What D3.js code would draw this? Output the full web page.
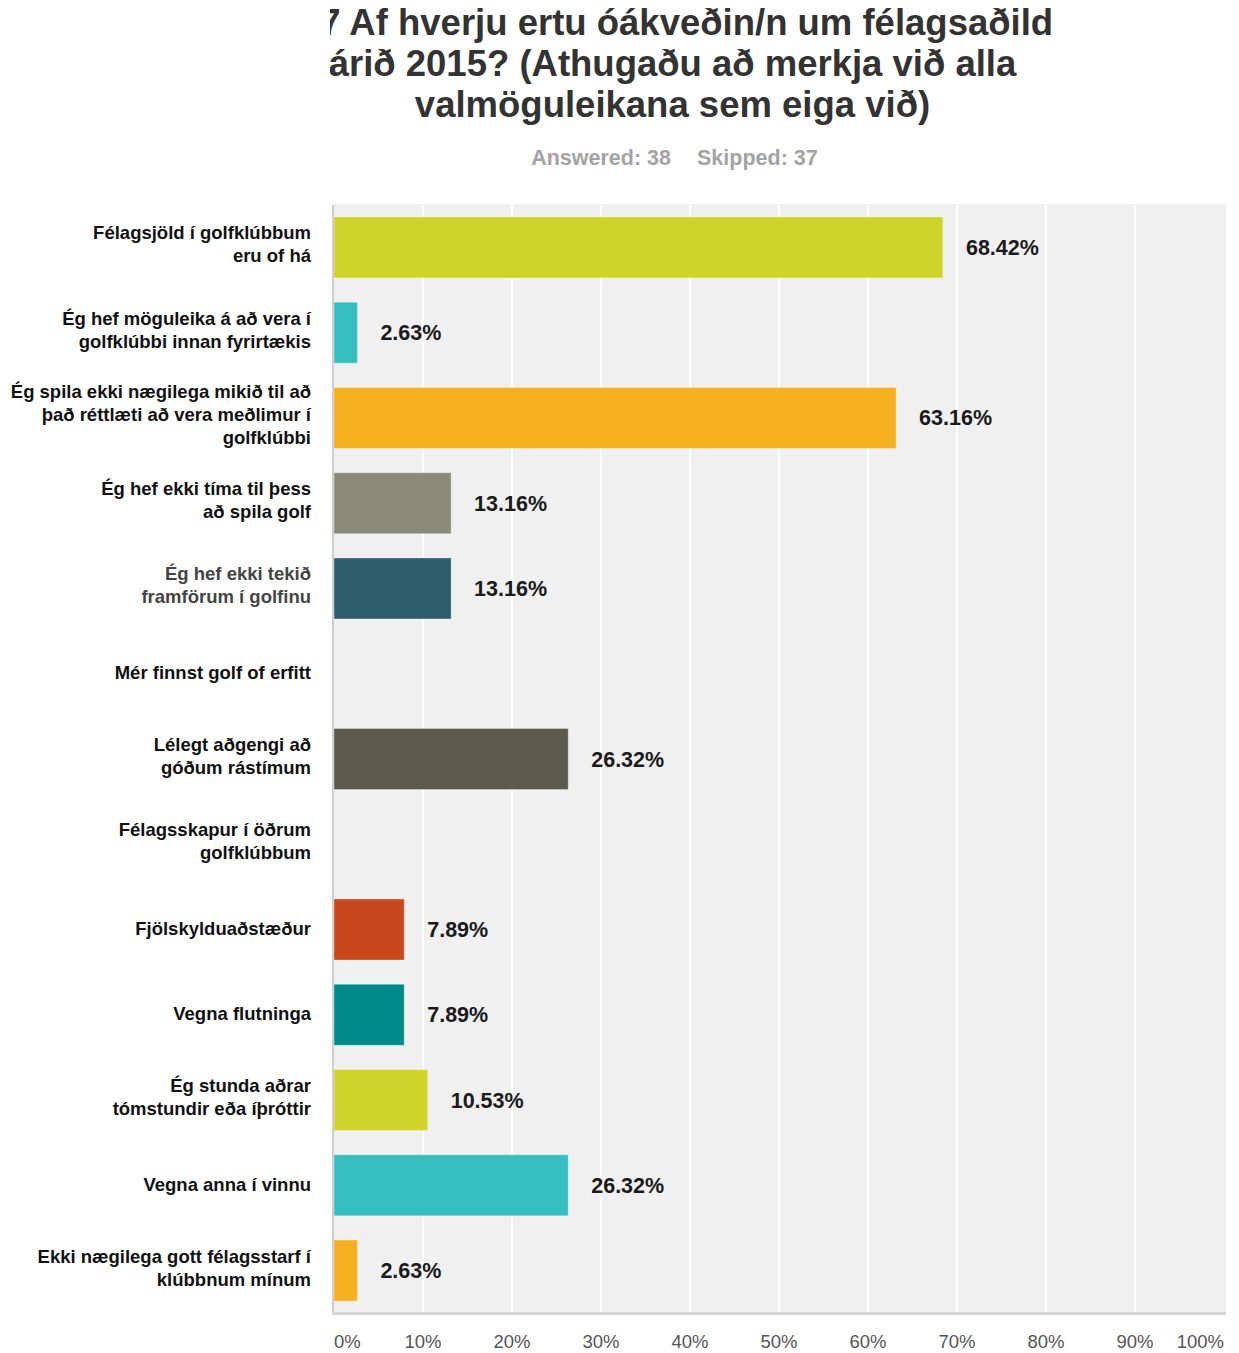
<!DOCTYPE html>
<html>
<head>
<meta charset="utf-8">
<script src="https://cdn.jsdelivr.net/npm/d3@7"></script>
<style>
  html, body { margin: 0; padding: 0; background: #fff; }
  svg { display: block; }
  text { font-family: "Liberation Sans", Arial, Helvetica, sans-serif; }
</style>
</head>
<body>
<svg id="chart" width="1239" height="1353"></svg>
<script>
// Survey question and response summary
const titleLines = [
  "Q7 Af hverju ertu óákveðin/n um félagsaðild",
  "árið 2015? (Athugaðu að merkja við alla",
  "valmöguleikana sem eiga við)"
];
const answeredText = "Answered: 38";
const skippedText = "Skipped: 37";

// Answer choices (label lines) and the share of respondents choosing each
const categories = [
  ["Félagsjöld í golfklúbbum", "eru of há"],
  ["Ég hef möguleika á að vera í", "golfklúbbi innan fyrirtækis"],
  ["Ég spila ekki nægilega mikið til að", "það réttlæti að vera meðlimur í", "golfklúbbi"],
  ["Ég hef ekki tíma til þess", "að spila golf"],
  ["Ég hef ekki tekið", "framförum í golfinu"],
  ["Mér finnst golf of erfitt"],
  ["Lélegt aðgengi að", "góðum rástímum"],
  ["Félagsskapur í öðrum", "golfklúbbum"],
  ["Fjölskylduaðstæður"],
  ["Vegna flutninga"],
  ["Ég stunda aðrar", "tómstundir eða íþróttir"],
  ["Vegna anna í vinnu"],
  ["Ekki nægilega gott félagsstarf í", "klúbbnum mínum"]
];
const values = [68.42, 2.63, 63.16, 13.16, 13.16, 0, 26.32, 0, 7.89, 7.89, 10.53, 26.32, 2.63];
const barColors = ["#cfd42a", "#35bfc1", "#f6b01f", "#898a78", "#2e5e6b", "#8c8c8c",
                   "#5c5a4a", "#8c8c8c", "#c8461b", "#008a8a", "#cfd42a", "#35bfc1", "#f6b01f"];
const labelColors = ["#111", "#111", "#111", "#111", "#444", "#111", "#111",
                     "#111", "#111", "#111", "#111", "#111", "#111"];
const tickValues = [0, 10, 20, 30, 40, 50, 60, 70, 80, 90, 100];

const svg = d3.select("#chart");

const plot = { left: 334, right: 1224, top: 205, bottom: 1313 };

const x = d3.scaleLinear().domain([0, 100]).range([plot.left, plot.right]);
const y = d3.scaleBand()
  .domain(d3.range(categories.length))
  .range([plot.top, plot.bottom])
  .paddingInner(0.284)
  .paddingOuter(0.14);

// Title, clipped on the left like a cropped header
svg.append("clipPath").attr("id", "titleClip")
  .append("rect").attr("x", 330).attr("y", 0).attr("width", 909).attr("height", 140);

svg.append("g").attr("clip-path", "url(#titleClip)")
  .selectAll("text").data(titleLines).join("text")
  .attr("x", 672.5)
  .attr("y", (d, i) => 35 + i * 41)
  .attr("text-anchor", "middle")
  .attr("font-size", 36.5)
  .attr("font-weight", "bold")
  .attr("fill", "#333")
  .text(d => d);

svg.append("text")
  .attr("x", 671).attr("y", 165)
  .attr("text-anchor", "end")
  .attr("font-size", 21.5).attr("font-weight", "bold").attr("fill", "#a3a3a3")
  .text(answeredText);
svg.append("text")
  .attr("x", 697).attr("y", 165)
  .attr("text-anchor", "start")
  .attr("font-size", 21.5).attr("font-weight", "bold").attr("fill", "#a3a3a3")
  .text(skippedText);

// Plot background
svg.append("rect")
  .attr("x", plot.left - 1).attr("y", plot.top - 1)
  .attr("width", 1226 - plot.left + 1).attr("height", plot.bottom - plot.top + 1)
  .attr("fill", "#f0f0f0");

// Vertical grid lines
svg.append("g")
  .selectAll("line").data(tickValues.filter(t => t > 0 && t < 100)).join("line")
  .attr("x1", d => x(d)).attr("x2", d => x(d))
  .attr("y1", plot.top).attr("y2", plot.bottom)
  .attr("stroke", "#ffffff").attr("stroke-width", 2);

// Bars
svg.append("g")
  .selectAll("rect").data(values).join("rect")
  .attr("x", x(0))
  .attr("y", (d, i) => y(i))
  .attr("width", d => x(d) - x(0))
  .attr("height", y.bandwidth())
  .attr("fill", (d, i) => barColors[i])
  .attr("stroke", "rgba(255,255,255,0.35)")
  .attr("stroke-width", 1)
  .attr("display", d => d > 0 ? null : "none");

// Value labels
svg.append("g")
  .selectAll("text").data(values).join("text")
  .attr("x", d => x(d) + 23)
  .attr("y", (d, i) => y(i) + y.bandwidth() / 2 + 7.5)
  .attr("font-size", 21.5).attr("font-weight", "bold").attr("fill", "#1a1a1a")
  .attr("display", d => d > 0 ? null : "none")
  .text(d => d.toFixed(2) + "%");

// Axis lines
svg.append("line")
  .attr("x1", plot.left - 1).attr("x2", plot.left - 1)
  .attr("y1", plot.top).attr("y2", plot.bottom)
  .attr("stroke", "#cfcfcf").attr("stroke-width", 2);
svg.append("line")
  .attr("x1", plot.left - 2).attr("x2", 1226)
  .attr("y1", plot.bottom + 0.5).attr("y2", plot.bottom + 0.5)
  .attr("stroke", "#d6d6d6").attr("stroke-width", 3);

// Category labels
const labelG = svg.append("g");
categories.forEach((lines, i) => {
  const cy = y(i) + y.bandwidth() / 2 - 3;
  const lh = 23;
  const t = labelG.append("text")
    .attr("text-anchor", "end")
    .attr("font-size", 18.5).attr("font-weight", "bold")
    .attr("fill", labelColors[i]);
  lines.forEach((ln, j) => {
    t.append("tspan")
      .attr("x", 311)
      .attr("y", cy + (j - (lines.length - 1) / 2) * lh + 6.5 + (lines.length === 1 ? 2 : 0))
      .text(ln);
  });
});

// Bottom axis tick labels
svg.append("g")
  .selectAll("text").data(tickValues).join("text")
  .attr("x", d => x(d))
  .attr("y", 1348)
  .attr("text-anchor", d => d === 0 ? "start" : (d === 100 ? "end" : "middle"))
  .attr("font-size", 18.5).attr("fill", "#555")
  .text(d => d + "%");
</script>
</body>
</html>
